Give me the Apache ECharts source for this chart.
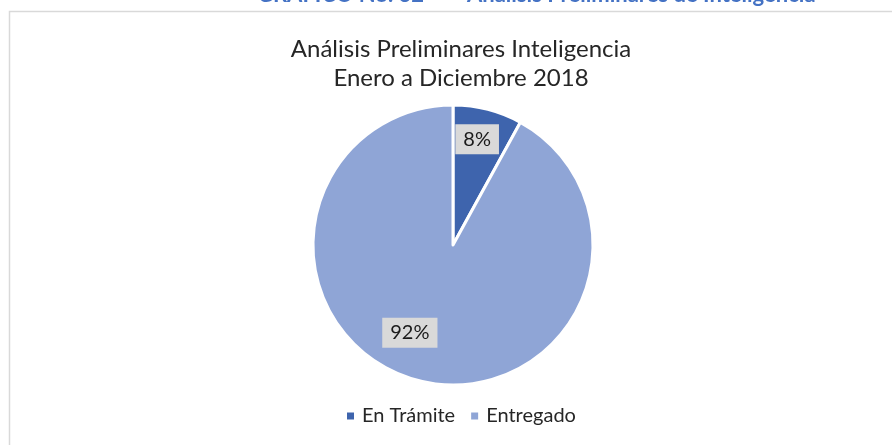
<!DOCTYPE html>
<html>
<head>
<meta charset="utf-8">
<script src="https://cdn.jsdelivr.net/npm/echarts@6/dist/echarts.min.js"></script>
<style>
  html, body { margin: 0; padding: 0; background: #ffffff; }
  #chart { width: 892px; height: 445px; }
</style>
</head>
<body>
<div id="chart"></div>
<script>
// Status categories and their share of the year's preliminary analyses (%)
const categories = ['En Trámite', 'Entregado'];
const shares = [8, 92];
const sliceColors = ['#3e64ad', '#8fa5d6'];

const FONT = 'Lato, "Open Sans", sans-serif';

const chart = echarts.init(document.getElementById('chart'), null, { renderer: 'canvas' });

chart.setOption({
  backgroundColor: '#ffffff',
  animation: false,
  graphic: [
    // chart area frame
    {
      type: 'rect',
      shape: { x: 9.5, y: 11.5, width: 900, height: 450 },
      style: { fill: 'none', stroke: '#d9d9d9', lineWidth: 1.5 },
      z: 0
    },
    // document heading above the frame
    {
      type: 'text',
      left: 257, top: -16,
      style: { text: 'GRÁFICO No. 32', font: 'bold 22px ' + FONT, fill: '#4472c4' }
    },
    {
      type: 'text',
      left: 467, top: -16,
      style: { text: 'Análisis Preliminares de Inteligencia', font: 'bold 22px ' + FONT, fill: '#4472c4' }
    }
  ],
  title: {
    text: 'Análisis Preliminares Inteligencia\nEnero a Diciembre 2018',
    left: 456,
    textAlign: 'center',
    top: 30,
    textStyle: {
      fontFamily: FONT,
      fontSize: 24,
      fontWeight: 'normal',
      color: '#262626',
      lineHeight: 29
    }
  },
  legend: {
    data: categories,
    left: 340,
    top: 401,
    itemWidth: 9,
    itemHeight: 9,
    itemGap: 14,
    icon: 'rect',
    textStyle: { fontFamily: FONT, fontSize: 20, color: '#262626', padding: [0, 0, 0, 2] }
  },
  series: [{
    type: 'pie',
    center: [453, 245],
    radius: 140,
    startAngle: 90,
    clockwise: true,
    avoidLabelOverlap: false,
    itemStyle: { borderColor: '#ffffff', borderWidth: 3 },
    emphasis: { disabled: true },
    label: {
      show: true,
      position: 'inside',
      formatter: '{d}%',
      fontFamily: FONT,
      fontSize: 20,
      color: '#1a1a1a',
      backgroundColor: '#d9d9d9',
      padding: [6, 8, 4, 8]
    },
    labelLine: { show: false },
    labelLayout: function (p) {
      return p.dataIndex === 0 ? { dx: 6, dy: -35 } : { dx: -25, dy: 17 };
    },
    data: categories.map((name, i) => ({
      name: name,
      value: shares[i],
      itemStyle: { color: sliceColors[i] }
    }))
  }]
});
</script>
</body>
</html>
